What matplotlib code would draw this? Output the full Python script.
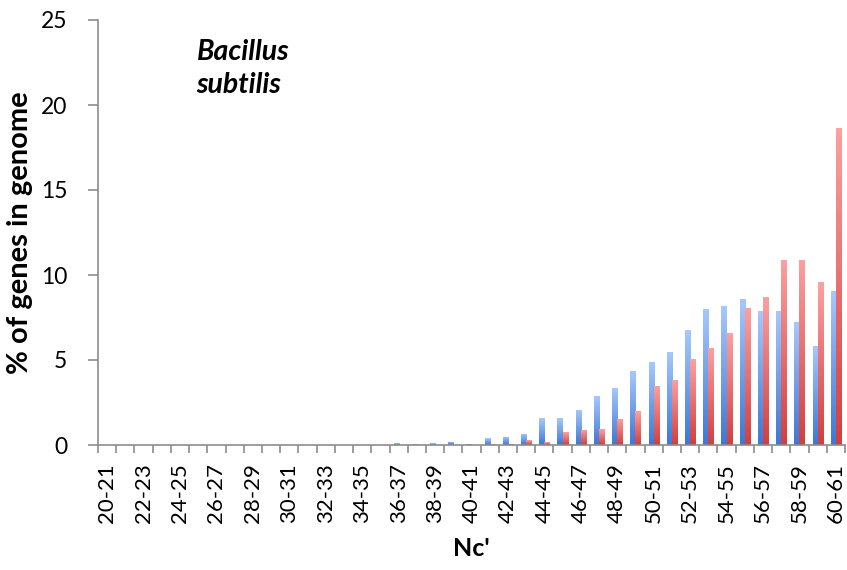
import numpy as np
import matplotlib
matplotlib.use("Agg")
import matplotlib.pyplot as plt
from matplotlib.colors import LinearSegmentedColormap

plt.rcParams["font.family"] = ["Lato", "DejaVu Sans"]

# Nc' bins, 20-21 ... 60-61
categories = [f"{n}-{n + 1}" for n in range(20, 61)]

# % of genes in genome
blue_vals = [0, 0, 0, 0, 0, 0, 0, 0, 0, 0,
             0, 0, 0, 0, 0, 0.02, 0.1, 0.03, 0.1, 0.2,
             0.06, 0.39, 0.5, 0.65, 1.58, 1.58, 2.07, 2.86, 3.38, 4.34,
             4.87, 5.48, 6.75, 7.98, 8.16, 8.6, 7.88, 7.88, 7.24, 5.83,
             9.06]
red_vals = [0, 0, 0, 0, 0, 0, 0, 0, 0, 0,
            0, 0, 0, 0, 0, 0, 0, 0, 0, 0,
            0.01, 0.03, 0.06, 0.29, 0.16, 0.74, 0.9, 0.92, 1.53, 1.98,
            3.48, 3.83, 5.03, 5.69, 6.57, 8.06, 8.72, 10.9, 10.9, 9.58,
            18.66]

yticks = [0, 5, 10, 15, 20, 25]

blue_cmap = LinearSegmentedColormap.from_list("b", ["#3c78d6", "#a6c8fc"])
red_cmap = LinearSegmentedColormap.from_list("r", ["#d23f3f", "#fca0a0"])

fig = plt.figure(figsize=(8.47, 5.70), dpi=100)
ax = fig.add_axes([98 / 847, 1 - 445 / 570, (845 - 98) / 847, (445 - 20) / 570])

x = np.arange(len(categories))
w = 0.28
bars_b = ax.bar(x - w / 2, blue_vals, w, color="none", linewidth=0)
bars_r = ax.bar(x + w / 2, red_vals, w, color="none", linewidth=0)

# vertical gradient in every bar, dark at the base, light at the top
grad = np.linspace(0, 1, 64).reshape(-1, 1)
for bars, cmap in [(bars_b, blue_cmap), (bars_r, red_cmap)]:
    for p in bars:
        h = p.get_height()
        if h <= 0:
            continue
        x0 = p.get_x()
        im = ax.imshow(grad, cmap=cmap, origin="lower", aspect="auto",
                       extent=[x0, x0 + p.get_width(), 0, h], zorder=2)
        im.set_clip_path(p)

ax.set_xlim(-0.5, len(categories) - 0.5)
ax.set_ylim(0, 25)
ax.set_yticks(yticks)

ax.set_xticks(x[::2])
ax.set_xticklabels(categories[::2], rotation=90)
ax.set_xticks(np.arange(-0.5, len(categories), 1), minor=True)
ax.tick_params(axis="x", which="major", length=0, pad=13, labelsize=16)
ax.tick_params(axis="x", which="minor", length=6, width=1.2, color="#8c8c8c")
ax.tick_params(axis="y", length=7, width=1.2, color="#8c8c8c", pad=15, labelsize=16.5)

for s in ["top", "right"]:
    ax.spines[s].set_visible(False)
for s in ["left", "bottom"]:
    ax.spines[s].set_color("#8c8c8c")
    ax.spines[s].set_linewidth(1.2)

ax.set_ylabel("% of genes in genome", fontsize=21, fontweight="bold", labelpad=6)
ax.set_xlabel("Nc'", fontsize=18, fontweight="bold", labelpad=10)

ax.text(0.132, 0.955, "Bacillus\nsubtilis",
        transform=ax.transAxes, fontsize=20.5, fontweight="bold", style="italic",
        ha="left", va="top", linespacing=1.35)

fig.savefig("out.png", dpi=100)
